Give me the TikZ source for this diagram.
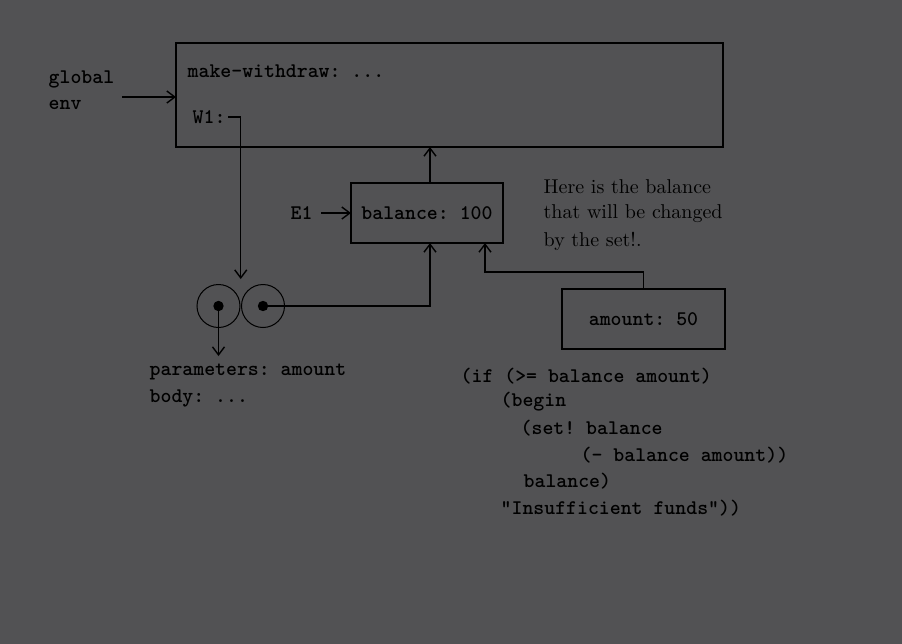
\documentclass[tikz,border=0pt]{standalone}
\usepackage{tikz}
\usetikzlibrary{calc,arrows.meta}
\definecolor{bgcol}{RGB}{82,82,84}
\newcommand{\codefont}{\fontsize{10.4}{12}\selectfont\ttfamily\bfseries\frenchspacing}

\begin{document}
\begin{tikzpicture}[x=0.5pt, y=-0.5pt, line width=0.7pt, >={Straight Barb[length=4pt, width=6pt]},
    block/.style={draw, outer sep=0pt, inner sep=0pt},
    code/.style={anchor=west, inner sep=0pt, font=\codefont},
    note/.style={anchor=west, inner sep=0pt, font=\fontsize{10}{12}\selectfont},
    cell/.style={circle, draw, line width=0.5pt, minimum size=21.5pt, inner sep=0pt, outer sep=0pt}]
        \fill[bgcol] (0,0) rectangle (902,644);
        \useasboundingbox (0,0) rectangle (902,644);
        % global environment
        \node[block, anchor=north west, minimum width=273.5pt, minimum height=52pt] (genv) at (176,43) {};
        \node[code] (mkw) at (187,71) {make-withdraw: ...};
        \node[code] (w1) at (192,117) {W1:};
        \node[code] (glob) at (48,79) {global};
        \node[code] (env) at (48,105) {env};
        \coordinate (gin) at (122,97);
        \draw[->] (gin) -- (gin -| genv.west);
        % frame E1
        \node[block, minimum width=76pt, minimum height=30pt, font=\codefont] (e1) at (427,213) {balance: 100};
        \node[code] (e1lab) at (290,213) {E1};
        \draw[->] (e1lab.east) ++(8,0) -- (e1.west);
        \draw[->] ([xshift=1.5pt]e1.north) -- ([xshift=1.5pt]e1.north |- genv.south);
        \node[note] (hint) at (543,187) {Here is the balance};
        \node[note] (hint2) at (543,214) {that will be changed};
        \node[note] (hint3) at (543,241) {by the set!.};
        % procedure object
        \node[cell] (lcell) at (218.5,306) {};
        \node[cell] (rcell) at (263,306) {};
        \fill (lcell.center) circle (2.6pt);
        \fill (rcell.center) circle (2.6pt);
        \coordinate (pairtop) at ($(lcell.east)!0.5!(rcell.west)+(0,-27)$);
        \draw[->] (w1.east) ++(2,0) -| (pairtop);
        \node[code] (params) at (149,372) {parameters: amount};
        \node[code] (body) at (149,398) {body: ...};
        \draw[->] (lcell.center) -- ++(0,50);
        \draw[->] (rcell.center) -| ([xshift=1.5pt]e1.south);
        % frame for the call
        \node[block, minimum width=81.5pt, minimum height=30pt, font=\codefont] (amt) at (643.5,319) {amount: 50};
        \coordinate (bend) at (485,272);
        \draw[->] (amt.north) |- (bend) -- (bend |- e1.south);
        % body of the procedure
        \node[code] (c1) at (460,376) {(if (>= balance amount)};
        \node[code] (c2) at (500,402) {(begin};
        \node[code] (c3) at (520,428) {(set! balance};
        \node[code] (c4) at (580,455) {(- balance amount))};
        \node[code] (c5) at (523,481) {balance)};
        \node[code] (c6) at (500,508) {"Insufficient funds"))};
\end{tikzpicture}
\end{document}
